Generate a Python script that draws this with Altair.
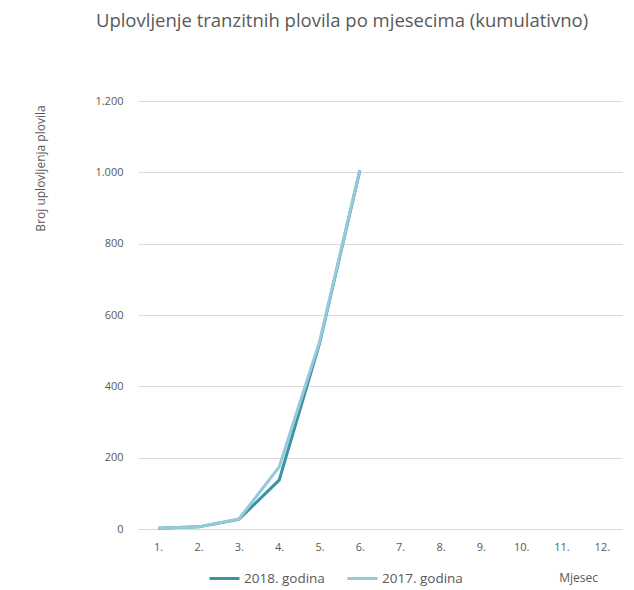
import altair as alt
import pandas as pd

months = ["1.", "2.", "3.", "4.", "5.", "6.", "7.", "8.", "9.", "10.", "11.", "12."]
series_2018 = [2, 6, 27, 137, 520, 1005]
series_2017 = [2, 6, 28, 174, 525, 1007]
series_names = ["2018. godina", "2017. godina"]
colors = ["#3b93a6", "#96c9d9"]

rows = []
for i, v in enumerate(series_2018):
    rows.append({"mjesec": months[i], "serija": series_names[0], "vrijednost": v, "ord": 0})
for i, v in enumerate(series_2017):
    rows.append({"mjesec": months[i], "serija": series_names[1], "vrijednost": v, "ord": 1})
df = pd.DataFrame(rows)

FONT = "Open Sans"

chart = alt.Chart(df).mark_line(strokeWidth=3).encode(
    x=alt.X("mjesec:O", sort=months, scale=alt.Scale(domain=months, type="point", padding=0.5),
            axis=alt.Axis(title="Mjesec", labelAngle=0, ticks=False, domain=False, grid=False,
                          labelPadding=12, labelFontSize=11, labelColor="#595959", labelFont=FONT,
                          titleFont=FONT, titleFontSize=12, titleFontWeight="normal", titleColor="#595959",
                          titleX=440, titleY=48, titleAlign="center", titleBaseline="middle")),
    y=alt.Y("vrijednost:Q", scale=alt.Scale(domain=[0, 1200], nice=False),
            axis=alt.Axis(title="Broj uplovljenja plovila", values=[0, 200, 400, 600, 800, 1000, 1200],
                          labelExpr="replace(format(datum.value, ','), ',', '.')",
                          ticks=False, domain=False, gridColor="#d9d9d9", gridWidth=1,
                          labelPadding=15, labelFontSize=11, labelColor="#595959", labelFont=FONT,
                          titleFont=FONT, titleFontSize=12, titleFontWeight="normal", titleColor="#595959",
                          titleAngle=-90, titleX=-98, titleY=67, titleAlign="center", titleBaseline="middle")),
    color=alt.Color("serija:N", sort=series_names,
                    scale=alt.Scale(domain=series_names, range=colors),
                    legend=alt.Legend(title=None, orient="none", direction="horizontal",
                                      legendX=70, legendY=461, symbolType="stroke", symbolStrokeWidth=3,
                                      symbolSize=900, labelFont=FONT, labelFontSize=13.5, labelColor="#595959",
                                      columnPadding=16, labelOffset=3)),
    order=alt.Order("ord:Q"),
    detail="serija:N",
).properties(
    width=484,
    height=428,
    title=alt.TitleParams("Uplovljenje  tranzitnih plovila  po mjesecima (kumulativno)",
                          font=FONT, fontSize=18.5, fontWeight="normal", color="#595959",
                          anchor="middle", dx=-38, offset=65),
    autosize=alt.AutoSizeParams(type="none"),
    padding={"left": 130, "top": 93, "right": 4, "bottom": 60},
).configure_view(stroke=None)

chart.save("out.html", embed_options={"renderer": "svg", "actions": False})
